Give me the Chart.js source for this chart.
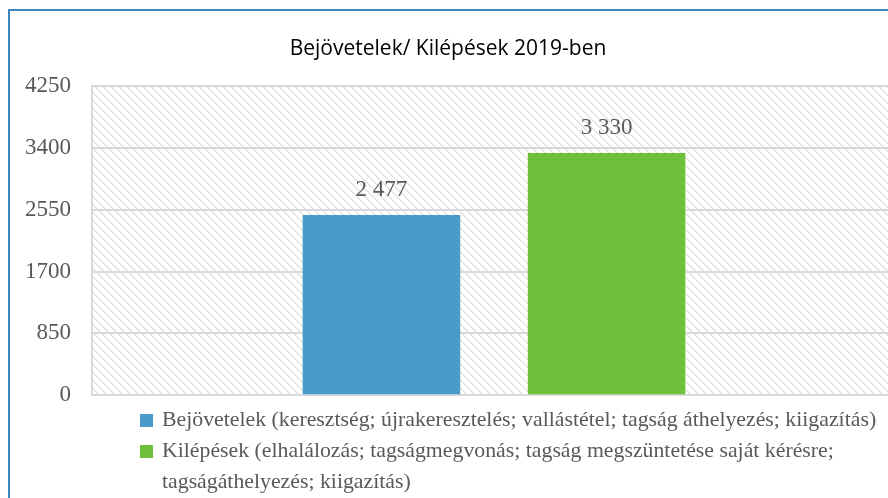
<!DOCTYPE html>
<html>
<head>
<meta charset="utf-8">
<script src="https://cdn.jsdelivr.net/npm/chart.js@4"></script>
<style>
  html, body { margin:0; padding:0; width:888px; height:498px; overflow:hidden; background:#fff; }
  #frame { position:absolute; left:8px; top:9px; width:900px; height:500px; border-left:2px solid #3f88bd; border-top:2px solid #3f88bd; }
  #wrap { position:absolute; left:0; top:0; width:900px; height:430px; }
  #legend { position:absolute; left:140px; top:404px; width:745px; font-family:"Liberation Serif", "DejaVu Serif", serif; font-size:21.8px; color:#595959; line-height:31px; }
  .item { position:relative; padding-left:22px; }
  .box { position:absolute; left:0; top:10px; width:13px; height:13px; }
</style>
</head>
<body>
<div id="frame"></div>
<div id="wrap"><canvas id="chart" width="900" height="430"></canvas></div>
<div id="legend"></div>
<script>
// data
const categories = [''];
const seriesNames = [
    'Bejövetelek (keresztség; újrakeresztelés; vallástétel; tagság áthelyezés; kiigazítás)',
    'Kilépések (elhalálozás; tagságmegvonás; tagság megszüntetése saját kérésre; tagságáthelyezés; kiigazítás)'
];
const bejovetelek = [2477];
const kilepesek = [3330];
const yTicks = [0, 850, 1700, 2550, 3400, 4250];
const colors = ['#4a9bca', '#6ec03a'];

// hatched plot background
function makeHatch(){
    const c = document.createElement('canvas');
    c.width = 8; c.height = 8;
    const g = c.getContext('2d');
    g.fillStyle = '#ffffff';
    g.fillRect(0,0,8,8);
    for(let i=0;i<8;i++){
        g.fillStyle = '#dcdcdc';
        g.fillRect(i, i, 1, 1);
        g.fillStyle = '#ececec';
        g.fillRect((i+1)%8, i, 1, 1);
    }
    return c;
}

const hatchPlugin = {
    id:'hatch',
    beforeDraw(chart){
        const {ctx, chartArea:a} = chart;
        ctx.save();
        ctx.fillStyle = ctx.createPattern(makeHatch(), 'repeat');
        ctx.fillRect(a.left, a.top, a.right-a.left, a.bottom-a.top);
        ctx.restore();
    }
};

// value labels above bars, "2 477" style
const valueLabels = {
    id:'valueLabels',
    afterDatasetsDraw(chart){
        const ctx = chart.ctx;
        ctx.save();
        ctx.font = '23px "Liberation Serif", serif';
        ctx.fillStyle = '#595959';
        ctx.textAlign = 'center';
        ctx.textBaseline = 'middle';
        chart.data.datasets.forEach((ds, i)=>{
            chart.getDatasetMeta(i).data.forEach((bar, j)=>{
                const txt = String(ds.data[j]).replace(/\B(?=(\d{3})+(?!\d))/g, ' ');
                ctx.fillText(txt, bar.x, bar.y - 25);
            });
        });
        ctx.restore();
    }
};

const chart = new Chart(document.getElementById('chart').getContext('2d'), {
    type:'bar',
    data:{
        labels: categories,
        datasets:[
            {label: seriesNames[0], data: bejovetelek, backgroundColor: colors[0]},
            {label: seriesNames[1], data: kilepesek, backgroundColor: colors[1]}
        ]
    },
    options:{
        responsive:false,
        animation:false,
        categoryPercentage:0.56,
        barPercentage:0.70,
        layout:{padding:{top:10, right:4, bottom:15, left:0}},
        plugins:{
            legend:{display:false},
            tooltip:{enabled:false},
            title:{
                display:true,
                text:'Bejövetelek/ Kilépések 2019-ben',
                color:'#000',
                font:{family:'"Open Sans", sans-serif', size:21, weight:'normal'},
                padding:{top:26, bottom:25}
            }
        },
        scales:{
            x:{
                ticks:{display:false},
                grid:{color:'#d9d9d9', lineWidth:2, drawTicks:false},
                border:{display:false}
            },
            y:{
                min:0, max:4250,
                afterBuildTicks(s){ s.ticks = yTicks.map(v=>({value:v})); },
                afterFit(s){ s.width = 92; },
                ticks:{color:'#595959', font:{family:'"Liberation Serif", serif', size:23}, padding:21,
                       callback:v=>String(v)},
                grid:{color:'#d9d9d9', lineWidth:2, drawTicks:false},
                border:{display:true, color:'#d9d9d9', width:2}
            }
        }
    },
    plugins:[hatchPlugin, valueLabels]
});

// legend (wrapping text)
const legend = document.getElementById('legend');
seriesNames.forEach((name, i)=>{
    const el = document.createElement('div');
    el.className = 'item';
    el.innerHTML = `<span class="box" style="background:${colors[i]}"></span>${name}`;
    legend.appendChild(el);
});
</script>
</body>
</html>
